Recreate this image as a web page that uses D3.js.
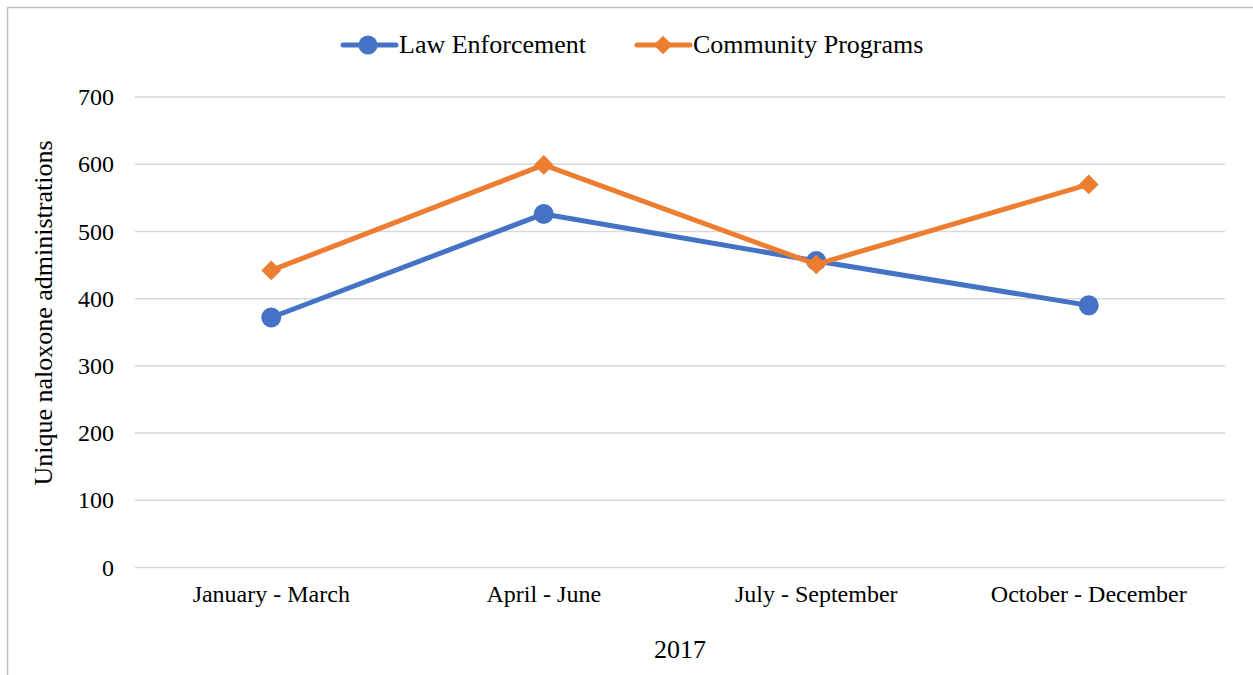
<!DOCTYPE html>
<html><head><meta charset="utf-8">
<script src="https://cdn.jsdelivr.net/npm/d3@7"></script>
<style>body{margin:0;background:#fff}svg{display:block}text{font-family:"Liberation Serif","Times New Roman",serif;fill:#000}</style>
</head><body><svg id="c" width="1253" height="675"></svg>
<script>
const categories=["January - March","April - June","July - September","October - December"];
const lawEnforcement=[372,526,456,390];
const communityPrograms=[442,599,451,570];
const yTicks=[0,100,200,300,400,500,600,700];
const seriesNames=["Law Enforcement","Community Programs"];
const colors=["#4472C4","#ED7D31"];

const svg=d3.select("#c");
svg.append("rect").attr("x",7.5).attr("y",7.5).attr("width",1260).attr("height",680).attr("fill","#fff").attr("stroke","#bfbfbf").attr("stroke-width",1.5);
const L=135,R=1225,T=97,B=567.5;
const x=d3.scaleBand().domain(categories).range([L,R]);
const y=d3.scaleLinear().domain([0,700]).range([B,T]);

const g=svg.append("g");
g.selectAll("line.grid").data(yTicks).join("line").attr("class","grid")
 .attr("x1",L).attr("x2",R).attr("y1",d=>y(d)).attr("y2",d=>y(d))
 .attr("stroke","#d9d9d9").attr("stroke-width",1.5);
const yAx=svg.append("g").attr("transform",`translate(${L},0)`).call(d3.axisLeft(y).tickValues(yTicks).tickSize(0).tickPadding(21));
yAx.select(".domain").remove();
yAx.selectAll("text").attr("font-size",24).attr("font-family","Liberation Serif");
const xAx=svg.append("g").attr("transform",`translate(0,${B})`).call(d3.axisBottom(x).tickSize(0).tickPadding(17));
xAx.select(".domain").remove();
xAx.selectAll("text").attr("font-size",24).attr("font-family","Liberation Serif");

svg.append("text").attr("x",680).attr("y",658).attr("text-anchor","middle").attr("font-size",26).text("2017");
svg.append("text").attr("transform","translate(52,313) rotate(-90)").attr("text-anchor","middle").attr("font-size",26).text("Unique naloxone administrations");

const cx=d=>x(d)+x.bandwidth()/2;
const line=d3.line().x((d,i)=>cx(categories[i])).y(d=>y(d));
const diamond=d3.symbol().type(d3.symbolDiamond2||d3.symbolDiamond).size(250);
function drawSeries(vals,color,marker){
  svg.append("path").datum(vals).attr("d",line).attr("fill","none").attr("stroke",color).attr("stroke-width",5).attr("stroke-linejoin","round").attr("stroke-linecap","round");
  if(marker==="circle"){
    svg.selectAll(null).data(vals).join("circle").attr("cx",(d,i)=>cx(categories[i])).attr("cy",d=>y(d)).attr("r",10).attr("fill",color);
  } else {
    svg.selectAll(null).data(vals).join("path").attr("d",diamond).attr("transform",(d,i)=>`translate(${cx(categories[i])},${y(d)})`).attr("fill",color);
  }
}
drawSeries(lawEnforcement,colors[0],"circle");
drawSeries(communityPrograms,colors[1],"diamond");

// legend
const leg=[{x:340,name:seriesNames[0],c:colors[0],m:"circle"},{x:634,name:seriesNames[1],c:colors[1],m:"diamond"}];
leg.forEach(o=>{
  svg.append("line").attr("x1",o.x+3).attr("x2",o.x+56).attr("y1",45).attr("y2",45).attr("stroke",o.c).attr("stroke-width",5).attr("stroke-linecap","round");
  if(o.m==="circle") svg.append("circle").attr("cx",o.x+28).attr("cy",45).attr("r",9.5).attr("fill",o.c);
  else svg.append("path").attr("d",d3.symbol().type(d3.symbolDiamond2||d3.symbolDiamond).size(220)).attr("transform",`translate(${o.x+29},45)`).attr("fill",o.c);
  svg.append("text").attr("x",o.x+59).attr("y",53).attr("font-size",26).text(o.name);
});
</script></body></html>
